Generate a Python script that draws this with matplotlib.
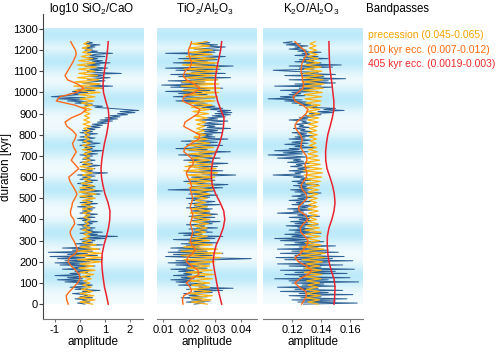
import numpy as np
import matplotlib
matplotlib.use("Agg")
import matplotlib.pyplot as plt
from matplotlib.colors import to_rgb

plt.rcParams['font.family'] = ['Liberation Sans', 'DejaVu Sans']
plt.rcParams['mathtext.default'] = 'regular'
plt.rcParams['axes.unicode_minus'] = False

# age grids (kyr)
t_raw = np.arange(0, 1241, 5)
t_prec = np.arange(0, 1241, 10)
t_100 = np.arange(0, 1241, 20)
t_405 = np.arange(0, 1241, 40)

# ---- log10 SiO2/CaO ----
sio2_raw = [
    0.2, -0.1, 0.4, 0.1, 0.3, -0.2, 0.5, 0.0, 0.3, 0.15,
    -0.3, 0.4, 0.1, 0.8, -0.2, 0.3, -0.4, 0.2, 0.5, -0.1,
    0.3, -0.6, 0.2, -0.9, 0.1, -0.5, 0.4, -1.0, 0.0, -0.4,
    0.3, -0.2, 0.5, -0.7, 0.1, -0.3, 0.6, -0.8, 0.2, -1.0,
    0.4, -0.6, 0.9, -0.9, 0.2, -1.2, 0.7, -0.5, 0.3, -1.27,
    0.5, -0.3, 0.8, -0.7, 0.4, 0.0, 0.9, -0.2, 0.5, 0.1,
    0.6, 0.0, 1.0, 0.2, 1.5, 0.3, 0.7, 0.0, 0.9, 0.2,
    0.5, 0.0, 0.6, 0.1, 0.4, -0.1, 0.5, 0.2, 0.7, 0.1,
    0.4, -0.1, 0.6, 0.2, 0.3, 0.7, 0.0, 0.4, 0.1, 0.5,
    0.2, 0.6, -0.1, 0.4, 0.2, 0.7, 0.0, 0.5, 0.2, 0.3,
    0.6, 0.0, 0.5, 0.2, 0.8, 0.1, 0.4, 0.9, 0.0, 0.5,
    0.2, 0.6, 0.1, 0.4, -0.1, 0.5, 0.2, 0.7, 0.0, 0.4,
    0.1, 0.6, -0.1, 0.5, 1.1, 0.2, 0.5, 0.0, 0.6, 0.2,
    0.4, 0.8, 0.1, 0.5, 0.0, 0.3, 0.6, 0.1, 0.4, 0.2,
    0.5, 0.0, 0.7, 0.2, 0.4, 0.9, 0.1, 0.5, 0.2, 0.6,
    0.0, 0.4, 0.8, 0.1, 0.5, -0.1, 0.3, 0.6, 0.0, 0.4,
    0.2, 0.7, 0.0, 0.5, 0.1, 0.6, 0.3, 0.8, 0.4, 0.9,
    0.5, 1.1, 0.7, 1.3, 0.8, 1.5, 1.0, 1.6, 1.2, 1.9,
    1.5, 2.2, 1.6, 2.35, 1.8, 1.2, 0.6, 0.9, 0.2, 0.5,
    -0.2, 0.3, -0.5, 0.1, -0.9, 0.2, -1.15, -0.6, 0.0, -0.4,
    0.3, -0.3, 0.6, -0.1, 0.9, 0.2, 1.3, 0.4, 0.8, 0.1,
    0.5, 1.0, 0.3, 0.7, 1.2, 0.4, 0.9, 0.2, 1.65, 0.6,
    0.3, 0.9, 0.4, 1.1, 0.6, 0.2, 0.8, 0.3, 1.2, 0.5,
    0.9, 0.3, 0.7, 0.2, 1.0, 0.4, 0.6, 1.3, 0.3, 0.7,
    0.2, 0.5, 0.1, 0.6, 0.3, 0.8, 0.2, 0.5, 0.3]
sio2_prec = [
    0.5, 0.0, 0.6, -0.05, 0.55, 0.0, 0.5, 0.05, 0.45, 0.1,
    0.4, 0.15, 0.45, 0.05, 0.55, 0.0, 0.6, -0.05, 0.55, 0.0,
    0.85, -0.1, 0.9, -0.15, 0.85, -0.1, 0.75, 0.0, 0.65, 0.1,
    0.45, 0.1, 0.4, 0.15, 0.45, 0.1, 0.4, 0.15, 0.35, 0.2,
    0.4, 0.15, 0.4, 0.12, 0.45, 0.1, 0.5, 0.05, 0.45, 0.1,
    0.6, 0.0, 0.65, -0.05, 0.6, 0.0, 0.55, 0.05, 0.45, 0.15,
    0.45, 0.1, 0.5, 0.05, 0.55, 0.0, 0.45, 0.1, 0.4, 0.15,
    0.4, 0.15, 0.45, 0.1, 0.45, 0.1, 0.4, 0.15, 0.38, 0.18,
    0.38, 0.17, 0.4, 0.15, 0.42, 0.12, 0.4, 0.15, 0.38, 0.18,
    0.4, 0.15, 0.45, 0.1, 0.5, 0.05, 0.55, 0.0, 0.6, -0.05,
    0.8, -0.2, 0.85, -0.25, 0.8, -0.2, 0.75, -0.1, 0.7, -0.05,
    0.6, -0.05, 0.65, -0.1, 0.6, -0.05, 0.5, 0.05, 0.45, 0.1,
    0.45, 0.1, 0.4, 0.15, 0.35]
sio2_100 = [
    -0.47, -0.53, -0.55, -0.42, -0.25, -0.1, 0.0, -0.03, -0.17, -0.35,
    -0.48, -0.42, -0.18, -0.1, -0.17, -0.25, -0.35, -0.4, -0.32, -0.21,
    -0.25, -0.37, -0.38, -0.33, -0.3, -0.2, -0.12, -0.2, -0.3, -0.4,
    -0.45, -0.25, -0.05, -0.2, -0.35, -0.25, -0.15, -0.25, -0.3, -0.2,
    -0.15, -0.3, -0.52, -0.6, -0.35, 0.05, 0.25, -0.2, -0.95, -0.8,
    -0.15, 0.15, -0.1, -0.5, -0.6, -0.5, -0.4, -0.3, -0.22, -0.15,
    -0.18, -0.28, -0.37]
sio2_405 = [
    1.13, 1.06, 0.98, 0.93, 0.89, 0.87, 0.89, 0.96, 1.06, 1.14,
    1.19, 1.2, 1.12, 1.0, 0.92, 0.86, 0.84, 0.87, 0.92, 0.98,
    1.06, 1.12, 1.16, 1.13, 1.03, 0.94, 0.92, 0.95, 1.0, 1.06,
    1.1, 1.13]

# ---- TiO2/Al2O3 ----
ti_raw = [
    0.022, 0.026, 0.019, 0.028, 0.021, 0.025, 0.017, 0.027, 0.020, 0.024,
    0.018, 0.029, 0.022, 0.033, 0.019, 0.037, 0.024, 0.027, 0.016, 0.026,
    0.020, 0.015, 0.024, 0.013, 0.022, 0.017, 0.026, 0.014, 0.021, 0.018,
    0.025, 0.016, 0.022, 0.013, 0.027, 0.019, 0.024, 0.015, 0.028, 0.012,
    0.026, 0.015, 0.031, 0.044, 0.022, 0.011, 0.029, 0.014, 0.033, 0.012,
    0.027, 0.016, 0.030, 0.013, 0.024, 0.019, 0.028, 0.017, 0.031, 0.020,
    0.026, 0.014, 0.030, 0.021, 0.033, 0.018, 0.025, 0.016, 0.029, 0.022,
    0.027, 0.020, 0.031, 0.023, 0.026, 0.019, 0.029, 0.024, 0.032, 0.021,
    0.027, 0.022, 0.030, 0.020, 0.026, 0.031, 0.023, 0.028, 0.021, 0.025,
    0.029, 0.019, 0.027, 0.022, 0.032, 0.020, 0.026, 0.030, 0.021, 0.025,
    0.019, 0.028, 0.023, 0.031, 0.020, 0.027, 0.024, 0.030, 0.012, 0.025,
    0.033, 0.021, 0.028, 0.035, 0.022, 0.026, 0.018, 0.030, 0.024, 0.029,
    0.021, 0.027, 0.038, 0.025, 0.030, 0.019, 0.033, 0.024, 0.029, 0.022,
    0.031, 0.020, 0.027, 0.035, 0.023, 0.029, 0.018, 0.026, 0.032, 0.021,
    0.028, 0.016, 0.030, 0.024, 0.036, 0.020, 0.027, 0.015, 0.029, 0.022,
    0.033, 0.019, 0.026, 0.031, 0.017, 0.028, 0.035, 0.022, 0.030, 0.025,
    0.029, 0.023, 0.033, 0.026, 0.031, 0.024, 0.036, 0.027, 0.030, 0.025,
    0.033, 0.026, 0.029, 0.035, 0.024, 0.031, 0.027, 0.034, 0.029, 0.036,
    0.030, 0.0365, 0.031, 0.036, 0.027, 0.033, 0.025, 0.030, 0.022, 0.027,
    0.019, 0.026, 0.015, 0.024, 0.018, 0.030, 0.014, 0.022, 0.027, 0.016,
    0.025, 0.011, 0.028, 0.018, 0.033, 0.013, 0.024, 0.0095, 0.029, 0.017,
    0.026, 0.012, 0.031, 0.020, 0.036, 0.016, 0.027, 0.013, 0.034, 0.021,
    0.029, 0.015, 0.032, 0.011, 0.026, 0.037, 0.019, 0.030, 0.014, 0.027,
    0.022, 0.031, 0.016, 0.028, 0.034, 0.021, 0.026, 0.011, 0.030, 0.024,
    0.032, 0.022, 0.029, 0.034, 0.025, 0.031, 0.023, 0.028, 0.026]
ti_prec = [
    0.027, 0.021, 0.0285, 0.0205, 0.029, 0.020, 0.0285, 0.0205, 0.028, 0.021,
    0.028, 0.020, 0.029, 0.0195, 0.0295, 0.019, 0.029, 0.0195, 0.028, 0.020,
    0.030, 0.018, 0.032, 0.017, 0.0325, 0.017, 0.031, 0.018, 0.029, 0.020,
    0.028, 0.021, 0.027, 0.022, 0.0265, 0.0225, 0.027, 0.022, 0.0275, 0.0215,
    0.028, 0.021, 0.0285, 0.0205, 0.028, 0.021, 0.027, 0.022, 0.0265, 0.0225,
    0.027, 0.022, 0.028, 0.021, 0.029, 0.020, 0.0295, 0.0195, 0.029, 0.020,
    0.030, 0.019, 0.031, 0.018, 0.0305, 0.0185, 0.029, 0.020, 0.028, 0.021,
    0.029, 0.020, 0.030, 0.019, 0.0295, 0.0195, 0.028, 0.021, 0.027, 0.022,
    0.0265, 0.0225, 0.026, 0.023, 0.026, 0.023, 0.0265, 0.0225, 0.027, 0.022,
    0.0275, 0.0215, 0.028, 0.021, 0.029, 0.020, 0.030, 0.019, 0.031, 0.018,
    0.0315, 0.0175, 0.032, 0.017, 0.0315, 0.0175, 0.031, 0.018, 0.030, 0.019,
    0.031, 0.018, 0.0315, 0.0175, 0.031, 0.018, 0.030, 0.019, 0.029, 0.020,
    0.029, 0.020, 0.028, 0.021, 0.027]
ti_100 = [
    0.0177, 0.0175, 0.018, 0.021, 0.0205, 0.019, 0.021, 0.0238, 0.0235, 0.021,
    0.019, 0.0195, 0.0215, 0.0225, 0.021, 0.0205, 0.021, 0.0215, 0.021, 0.0205,
    0.021, 0.0215, 0.021, 0.0205, 0.021, 0.0215, 0.021, 0.0205, 0.021, 0.0205,
    0.0195, 0.019, 0.020, 0.0215, 0.0217, 0.020, 0.018, 0.0185, 0.021, 0.0238,
    0.0242, 0.021, 0.018, 0.0185, 0.021, 0.0235, 0.0242, 0.021, 0.0175, 0.018,
    0.022, 0.0242, 0.022, 0.019, 0.0178, 0.0185, 0.0205, 0.021, 0.0205, 0.020,
    0.0198, 0.0205, 0.021]
ti_405 = [
    0.0326, 0.0318, 0.031, 0.0304, 0.0298, 0.0293, 0.0297, 0.0305, 0.032, 0.0332,
    0.0338, 0.0334, 0.032, 0.0303, 0.029, 0.0286, 0.0287, 0.0292, 0.0305, 0.0318,
    0.0327, 0.0333, 0.0335, 0.0322, 0.031, 0.0302, 0.030, 0.0303, 0.0308, 0.0315,
    0.0322, 0.0326]

# ---- K2O/Al2O3 ----
k_raw = [
    0.128, 0.165, 0.124, 0.150, 0.120, 0.158, 0.126, 0.140, 0.118, 0.162,
    0.125, 0.145, 0.112, 0.155, 0.122, 0.138, 0.110, 0.150, 0.127, 0.142,
    0.120, 0.166, 0.118, 0.145, 0.108, 0.160, 0.125, 0.135, 0.115, 0.158,
    0.122, 0.150, 0.112, 0.163, 0.128, 0.140, 0.118, 0.155, 0.110, 0.145,
    0.125, 0.162, 0.115, 0.148, 0.109, 0.156, 0.122, 0.140, 0.112, 0.152,
    0.120, 0.145, 0.110, 0.138, 0.125, 0.150, 0.115, 0.135, 0.122, 0.142,
    0.112, 0.130, 0.108, 0.136, 0.120, 0.128, 0.115, 0.140, 0.122, 0.132,
    0.118, 0.135, 0.124, 0.129, 0.116, 0.138, 0.122, 0.131, 0.119, 0.134,
    0.125, 0.132, 0.118, 0.139, 0.124, 0.130, 0.110, 0.128, 0.121, 0.134,
    0.117, 0.131, 0.125, 0.136, 0.120, 0.128, 0.123, 0.133, 0.118, 0.130,
    0.124, 0.135, 0.120, 0.129, 0.126, 0.140, 0.122, 0.131, 0.119, 0.134,
    0.125, 0.130, 0.121, 0.138, 0.124, 0.129, 0.120, 0.133, 0.126, 0.131,
    0.121, 0.128, 0.107, 0.126, 0.122, 0.131, 0.118, 0.129, 0.124, 0.133,
    0.119, 0.127, 0.123, 0.132, 0.117, 0.128, 0.121, 0.126, 0.110, 0.130,
    0.120, 0.1035, 0.127, 0.114, 0.131, 0.108, 0.125, 0.118, 0.136, 0.122,
    0.128, 0.115, 0.131, 0.120, 0.126, 0.133, 0.118, 0.129, 0.122, 0.135,
    0.124, 0.130, 0.120, 0.134, 0.126, 0.129, 0.121, 0.132, 0.125, 0.128,
    0.122, 0.133, 0.127, 0.130, 0.118, 0.131, 0.125, 0.135, 0.128, 0.140,
    0.132, 0.148, 0.138, 0.156, 0.142, 0.150, 0.130, 0.137, 0.125, 0.133,
    0.120, 0.130, 0.115, 0.127, 0.1035, 0.122, 0.112, 0.129, 0.118, 0.126,
    0.120, 0.138, 0.112, 0.135, 0.125, 0.148, 0.108, 0.140, 0.122, 0.150,
    0.128, 0.145, 0.118, 0.157, 0.130, 0.142, 0.115, 0.150, 0.126, 0.138,
    0.120, 0.107, 0.135, 0.125, 0.148, 0.118, 0.154, 0.130, 0.140, 0.122,
    0.135, 0.125, 0.145, 0.128, 0.138, 0.122, 0.132, 0.127, 0.140, 0.124,
    0.130, 0.118, 0.127, 0.122, 0.131, 0.116, 0.126, 0.114, 0.120]
k_prec = [
    0.138, 0.131, 0.139, 0.130, 0.1395, 0.1295, 0.139, 0.130, 0.138, 0.131,
    0.139, 0.130, 0.140, 0.129, 0.1405, 0.1285, 0.140, 0.129, 0.139, 0.130,
    0.141, 0.127, 0.1425, 0.126, 0.143, 0.1255, 0.142, 0.127, 0.140, 0.129,
    0.139, 0.130, 0.1395, 0.1295, 0.140, 0.129, 0.139, 0.130, 0.138, 0.131,
    0.137, 0.132, 0.1375, 0.1315, 0.138, 0.131, 0.1375, 0.1315, 0.137, 0.132,
    0.1375, 0.1315, 0.138, 0.131, 0.1385, 0.1305, 0.139, 0.130, 0.1395, 0.1295,
    0.1405, 0.1285, 0.141, 0.128, 0.1405, 0.1285, 0.1395, 0.1295, 0.139, 0.130,
    0.138, 0.131, 0.1375, 0.1315, 0.137, 0.132, 0.1365, 0.1325, 0.137, 0.132,
    0.1375, 0.1315, 0.137, 0.132, 0.1375, 0.1315, 0.138, 0.131, 0.1385, 0.1305,
    0.139, 0.130, 0.139, 0.130, 0.1395, 0.1295, 0.140, 0.129, 0.1405, 0.1285,
    0.141, 0.128, 0.1415, 0.1275, 0.142, 0.127, 0.1415, 0.1275, 0.141, 0.128,
    0.1405, 0.1285, 0.140, 0.129, 0.139, 0.130, 0.138, 0.131, 0.1375, 0.1315,
    0.137, 0.132, 0.1365, 0.1325, 0.136]
k_100 = [
    0.1267, 0.1285, 0.130, 0.1295, 0.125, 0.122, 0.1255, 0.131, 0.1336, 0.130,
    0.1245, 0.122, 0.126, 0.128, 0.1305, 0.131, 0.129, 0.126, 0.1258, 0.128,
    0.131, 0.1295, 0.125, 0.1245, 0.1275, 0.1305, 0.1298, 0.1272, 0.1262, 0.128,
    0.1298, 0.1303, 0.1295, 0.129, 0.1303, 0.130, 0.1278, 0.126, 0.1265, 0.127,
    0.1258, 0.1235, 0.122, 0.1232, 0.1265, 0.1298, 0.131, 0.1275, 0.122, 0.1208,
    0.124, 0.1276, 0.128, 0.1272, 0.127, 0.1262, 0.1265, 0.127, 0.1285, 0.130,
    0.1285, 0.125, 0.122]
k_405 = [
    0.149, 0.1495, 0.1497, 0.149, 0.147, 0.1455, 0.1447, 0.1443, 0.1444, 0.1455,
    0.1475, 0.149, 0.1497, 0.1492, 0.148, 0.1462, 0.1442, 0.1433, 0.1432, 0.1438,
    0.1447, 0.1463, 0.1478, 0.1489, 0.1489, 0.1482, 0.1476, 0.1468, 0.1461, 0.1458,
    0.1456, 0.1455]

titles = ['log10 SiO$_2$/CaO', 'TiO$_2$/Al$_2$O$_3$', 'K$_2$O/Al$_2$O$_3$']
xlims = [(-1.48, 2.52), (0.0077, 0.0462), (0.100, 0.169)]
xticks = [[-1, 0, 1, 2], [0.01, 0.02, 0.03, 0.04], [0.12, 0.14, 0.16]]
xticklabels = [['-1', '0', '1', '2'], ['0.01', '0.02', '0.03', '0.04'],
               ['0.12', '0.14', '0.16']]
yticks = list(range(0, 1301, 100))

# darker stripes of the background (kyr)
band_centers = [130, 335, 540, 745, 965, 1145, 1270]

c_raw = '#2c5f93'
c_prec = '#ffb414'
c_100 = '#ff6a1c'
c_405 = '#ea2330'

panels = [
    (sio2_raw, sio2_prec, sio2_100, sio2_405),
    (ti_raw, ti_prec, ti_100, ti_405),
    (k_raw, k_prec, k_100, k_405),
]

# background image, light cyan stripes
yy = np.linspace(0, 1300, 651)
inten = np.zeros_like(yy)
for c in band_centers:
    inten = np.maximum(inten, np.exp(-((yy - c) / 55.0) ** 2))
base = np.array(to_rgb('#f2fbfe'))
dark = np.array(to_rgb('#bdeaf9'))
bg = base[None, :] + inten[:, None] * (dark - base)[None, :]
bg = np.repeat(bg[:, None, :], 2, axis=1)

fig = plt.figure(figsize=(5.0, 3.54), dpi=100)
lefts = [43 / 500, 157 / 500, 263 / 500]

for i, (raw, prec, e100, e405) in enumerate(panels):
    ax = fig.add_axes([lefts[i], 0.099, 0.2, 0.861])
    x0, x1 = xlims[i]
    ax.imshow(bg, extent=[x0, x1, 0, 1300], origin='lower', aspect='auto',
              zorder=0, interpolation='bilinear')
    ax.plot(raw, t_raw, color=c_raw, lw=0.7, zorder=2)
    ax.plot(prec, t_prec, color=c_prec, lw=0.9, zorder=3)
    ax.plot(e100, t_100, color=c_100, lw=1.0, zorder=4)
    ax.plot(e405, t_405, color=c_405, lw=1.1, zorder=4)
    ax.set_xlim(x0, x1)
    ax.set_ylim(-70, 1370)
    ax.set_xticks(xticks[i])
    ax.set_xticklabels(xticklabels[i])
    ax.set_xlabel('amplitude', fontsize=8.5, labelpad=1)
    for s in ['top', 'right']:
        ax.spines[s].set_visible(False)
    ax.spines['bottom'].set_color('#777777')
    ax.tick_params(axis='x', labelsize=8, length=2, color='#777777', pad=2)
    if i == 0:
        ax.spines['left'].set_color('#444444')
        ax.set_yticks(yticks)
        ax.tick_params(axis='y', labelsize=8, length=3, color='#444444', pad=1)
        ax.set_ylabel('duration [kyr]', fontsize=8.5)
        ax.yaxis.set_label_coords(-0.31, 0.5)
    else:
        ax.spines['left'].set_visible(False)
        ax.set_yticks([])
    fig.text(lefts[i] + 0.097, 1 - 9 / 354, titles[i], fontsize=8.5,
             ha='center', va='center')

fig.text(366 / 500, 1 - 9 / 354, 'Bandpasses', fontsize=8.3, va='center', ha='left')
fig.text(368 / 500, 1 - 35 / 354, 'precession (0.045-0.065)', fontsize=7.5,
         va='center', ha='left', color='#f5a300')
fig.text(368 / 500, 1 - 50 / 354, '100 kyr ecc. (0.007-0.012)', fontsize=7.5,
         va='center', ha='left', color='#ff6a10')
fig.text(368 / 500, 1 - 64 / 354, '405 kyr ecc. (0.0019-0.003)', fontsize=7.5,
         va='center', ha='left', color='#ee2a2a')

fig.savefig('out.png', dpi=100)
